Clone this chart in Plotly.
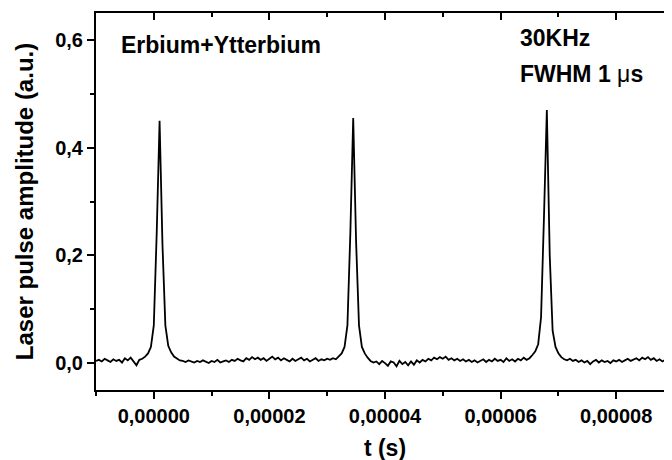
import plotly.graph_objects as go

# Sampled laser pulse trace (time in microseconds, amplitude in a.u.)
T_START_US = -10.0
T_STEP_US = 0.5
amplitude = [
    0.004, 0.006, 0.003, 0.008, 0.005, 0.002, 0.007, 0.004, 0.006, 0.001,   # -10.0 .. -5.5
    0.009, 0.005, 0.010, 0.003, -0.004, 0.006, 0.008, 0.012, 0.018, 0.030,  # -5.0 .. -0.5
    0.070, 0.240, 0.450, 0.220, 0.070, 0.032, 0.020, 0.012, 0.008, 0.005,   # 0.0 .. 4.5
    0.004, 0.002, 0.005, 0.003, 0.001, 0.004, 0.002, 0.005, 0.003, 0.000,   # 5.0 .. 9.5
    0.004, 0.002, 0.006, 0.001, 0.003, 0.005, 0.002, 0.006, 0.004, 0.008,   # 10.0 .. 14.5
    0.005, 0.003, 0.009, 0.006, 0.011, 0.007, 0.010, 0.006, 0.009, 0.004,   # 15.0 .. 19.5
    0.008, 0.012, 0.007, 0.010, 0.005, 0.009, 0.006, 0.003, 0.008, 0.004,   # 20.0 .. 24.5
    0.007, 0.010, 0.005, 0.008, 0.003, 0.006, 0.009, 0.004, 0.007, 0.005,   # 25.0 .. 29.5
    0.008, 0.006, 0.009, 0.007, 0.012, 0.018, 0.030, 0.070, 0.240, 0.455,   # 30.0 .. 34.5
    0.225, 0.070, 0.030, 0.018, 0.010, 0.004, 0.001, 0.003, -0.002, 0.004,  # 35.0 .. 39.5
    0.000, -0.005, 0.003, 0.001, -0.006, 0.004, -0.002, 0.002, -0.004, 0.003,  # 40.0 .. 44.5
    -0.003, 0.005, 0.001, 0.006, 0.003, 0.008, 0.005, 0.010, 0.007, 0.011,  # 45.0 .. 49.5
    0.008, 0.012, 0.006, 0.009, 0.005, 0.008, 0.004, 0.007, 0.003, 0.006,   # 50.0 .. 54.5
    0.002, 0.005, 0.001, 0.004, 0.007, 0.002, 0.006, 0.003, 0.008, 0.004,   # 55.0 .. 59.5
    0.006, 0.002, 0.009, 0.004, 0.007, 0.003, 0.008, 0.005, 0.010, 0.006,   # 60.0 .. 64.5
    0.009, 0.015, 0.022, 0.035, 0.085, 0.270, 0.470, 0.200, 0.060, 0.030,   # 65.0 .. 69.5
    0.018, 0.011, 0.007, 0.005, 0.008, 0.004, 0.006, 0.002, 0.005, 0.001,   # 70.0 .. 74.5
    0.004, -0.002, 0.003, 0.006, 0.001, 0.005, 0.002, 0.004, 0.000, 0.005,  # 75.0 .. 79.5
    0.003, 0.006, 0.002, 0.005, 0.008, 0.004, 0.007, 0.009, 0.005, 0.010,   # 80.0 .. 84.5
    0.007, 0.011, 0.006, 0.009, 0.004, 0.007, 0.003, 0.006, 0.002, 0.005,   # 85.0 .. 89.5
    0.004,                                                                  # 90.0
]

x_ticks = [0.0, 0.00002, 0.00004, 0.00006, 0.00008]
x_tick_labels = ["0,00000", "0,00002", "0,00004", "0,00006", "0,00008"]
y_ticks = [0.0, 0.2, 0.4, 0.6]
y_tick_labels = ["0,0", "0,2", "0,4", "0,6"]

x_range = [-0.00001, 0.00009]
y_range = [-0.05, 0.65]

t_seconds = [(T_START_US + T_STEP_US * i) * 1e-6 for i in range(len(amplitude))]

FONT = "Liberation Sans, Arial, sans-serif"

fig = go.Figure()
fig.add_trace(go.Scatter(
    x=t_seconds, y=amplitude, mode="lines",
    line=dict(color="black", width=1.8), showlegend=False, hoverinfo="skip",
))
# invisible trace to anchor the mirrored axes
fig.add_trace(go.Scatter(
    x=x_range, y=y_range, xaxis="x2", yaxis="y2", mode="lines",
    line=dict(width=0), showlegend=False, hoverinfo="skip", opacity=0,
))

common_axis = dict(showgrid=False, zeroline=False, showline=True, linecolor="black",
                   linewidth=2, tickcolor="black", tickwidth=2, automargin=False)

fig.update_layout(
    width=672, height=460,
    margin=dict(l=88, r=6, t=5, b=78, autoexpand=False),
    paper_bgcolor="white", plot_bgcolor="white",
    font=dict(family=FONT, color="black"),
    xaxis=dict(
        range=x_range, tickvals=x_ticks, ticktext=x_tick_labels,
        ticks="outside", ticklen=7,
        minor=dict(ticks="outside", ticklen=4, tickwidth=2, tickcolor="black", dtick=0.00001,
                   tick0=0),
        tickfont=dict(size=20, family=FONT, weight="bold"),
        title=dict(text="<b>t (s)</b>", font=dict(size=23, family=FONT), standoff=14),
        **common_axis,
    ),
    yaxis=dict(
        range=y_range, tickvals=y_ticks, ticktext=y_tick_labels,
        ticks="outside", ticklen=7,
        minor=dict(ticks="outside", ticklen=4, tickwidth=2, tickcolor="black", dtick=0.1,
                   tick0=0),
        tickfont=dict(size=20, family=FONT, weight="bold"),
        title=dict(text="<b>Laser pulse amplitude (a.u.)</b>", font=dict(size=24, family=FONT),
                   standoff=15),
        **common_axis,
    ),
    xaxis2=dict(
        overlaying="x", side="top", range=x_range, tickvals=x_ticks,
        showticklabels=False, ticks="inside", ticklen=7,
        minor=dict(ticks="inside", ticklen=4, tickwidth=2, tickcolor="black", dtick=0.00001,
                   tick0=0),
        **common_axis,
    ),
    yaxis2=dict(
        overlaying="y", side="right", range=y_range, tickvals=y_ticks,
        showticklabels=False, ticks="inside", ticklen=7,
        minor=dict(ticks="inside", ticklen=4, tickwidth=2, tickcolor="black", dtick=0.1,
                   tick0=0),
        **common_axis,
    ),
    annotations=[
        dict(text="<b>Erbium+Ytterbium</b>", xref="paper", yref="paper", x=0.04, y=0.915,
             xanchor="left", yanchor="middle", showarrow=False, font=dict(size=23, family=FONT)),
        dict(text="<b>30KHz</b>", xref="paper", yref="paper", x=0.73, y=0.934,
             xanchor="left", yanchor="middle", showarrow=False, font=dict(size=23, family=FONT)),
        dict(text="<b>FWHM 1 </b><span style='font-weight:normal'>μ</span><b>s</b>",
             xref="paper", yref="paper", x=0.73, y=0.838,
             xanchor="left", yanchor="middle", showarrow=False, font=dict(size=23, family=FONT)),
    ],
)

fig.write_html("out.html")
